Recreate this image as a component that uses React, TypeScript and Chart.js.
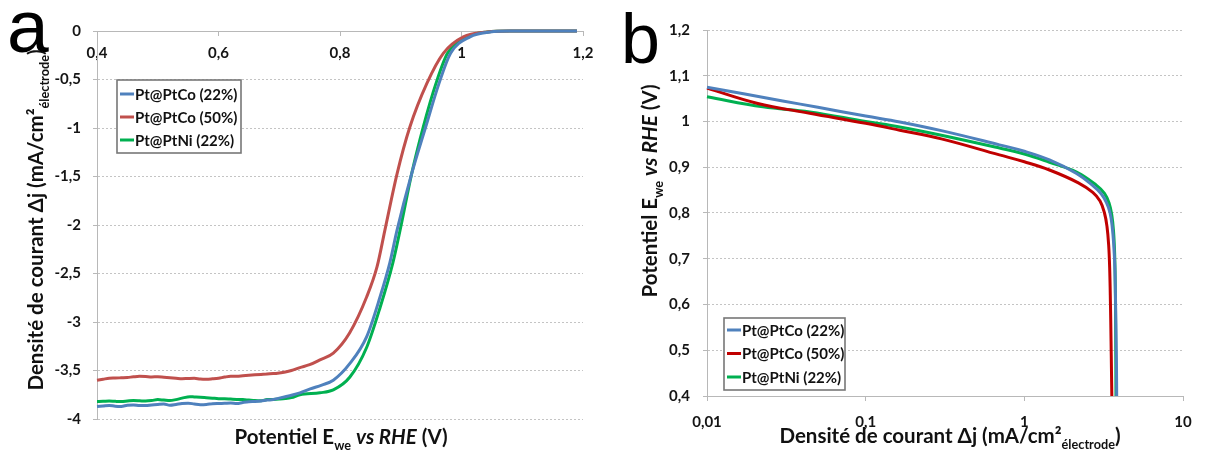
import React, { useEffect, useRef } from 'react';
import { Chart, registerables } from 'chart.js';

Chart.register(...registerables);

// ---------- Panel a : Δj vs potential ----------
const aTicksX = [0.4, 0.6, 0.8, 1, 1.2];
const aTicksY = [0, -0.5, -1, -1.5, -2, -2.5, -3, -3.5, -4];

const aLabels = ['Pt@PtCo (22%)', 'Pt@PtCo (50%)', 'Pt@PtNi (22%)'];

const aBlueV = [0.4, 0.41, 0.42, 0.43, 0.44, 0.45, 0.46, 0.47, 0.48, 0.49, 0.5, 0.51, 0.52, 0.53, 0.54, 0.55, 0.56, 0.57, 0.58, 0.59, 0.6, 0.61, 0.62, 0.63, 0.64, 0.65, 0.66, 0.67, 0.68, 0.69, 0.7, 0.71, 0.72, 0.734, 0.751, 0.77, 0.789, 0.816, 0.844, 0.866, 0.882, 0.894, 0.918, 0.941, 0.963, 0.982, 1.014, 1.047, 1.08, 1.12, 1.19];
const aBlueJ = [-3.87, -3.865, -3.86, -3.868, -3.87, -3.858, -3.855, -3.862, -3.862, -3.855, -3.85, -3.846, -3.858, -3.85, -3.84, -3.837, -3.845, -3.852, -3.85, -3.843, -3.84, -3.838, -3.835, -3.84, -3.83, -3.822, -3.82, -3.815, -3.805, -3.8, -3.785, -3.77, -3.755, -3.73, -3.69, -3.65, -3.6, -3.43, -3.15, -2.74, -2.39, -2.05, -1.47, -0.99, -0.54, -0.23, -0.06, -0.01, 0, 0, 0];

const aRedV = [0.4, 0.41, 0.42, 0.43, 0.44, 0.45, 0.46, 0.47, 0.48, 0.49, 0.5, 0.51, 0.52, 0.53, 0.54, 0.55, 0.56, 0.57, 0.58, 0.59, 0.6, 0.61, 0.62, 0.63, 0.64, 0.65, 0.66, 0.67, 0.68, 0.69, 0.7, 0.71, 0.72, 0.734, 0.75, 0.767, 0.789, 0.816, 0.844, 0.861, 0.874, 0.894, 0.915, 0.943, 0.97, 1.003, 1.042, 1.08, 1.12, 1.19];
const aRedJ = [-3.6, -3.59, -3.58, -3.578, -3.575, -3.572, -3.565, -3.56, -3.562, -3.566, -3.565, -3.57, -3.575, -3.58, -3.585, -3.582, -3.58, -3.588, -3.59, -3.586, -3.58, -3.568, -3.56, -3.56, -3.555, -3.55, -3.545, -3.54, -3.535, -3.532, -3.525, -3.515, -3.5, -3.47, -3.44, -3.39, -3.32, -3.11, -2.74, -2.43, -2.05, -1.47, -0.99, -0.54, -0.23, -0.06, -0.01, 0, 0, 0];

const aGreenV = [0.4, 0.41, 0.42, 0.43, 0.44, 0.45, 0.46, 0.47, 0.48, 0.49, 0.5, 0.51, 0.52, 0.53, 0.54, 0.553, 0.56, 0.57, 0.58, 0.59, 0.6, 0.61, 0.62, 0.63, 0.64, 0.65, 0.66, 0.67, 0.68, 0.69, 0.7, 0.71, 0.72, 0.734, 0.767, 0.789, 0.816, 0.844, 0.866, 0.887, 0.899, 0.918, 0.937, 0.958, 0.977, 1.009, 1.042, 1.08, 1.12, 1.19];
const aGreenJ = [-3.82, -3.818, -3.815, -3.818, -3.82, -3.815, -3.81, -3.812, -3.815, -3.81, -3.8, -3.805, -3.81, -3.8, -3.785, -3.77, -3.772, -3.775, -3.78, -3.785, -3.79, -3.792, -3.795, -3.798, -3.8, -3.805, -3.81, -3.812, -3.8, -3.798, -3.795, -3.79, -3.78, -3.75, -3.73, -3.7, -3.57, -3.26, -2.85, -2.39, -2.05, -1.47, -0.99, -0.54, -0.23, -0.06, -0.01, 0, 0, 0];

// ---------- Panel b : Tafel plot ----------
const bTicksX = [0.01, 0.1, 1, 10];
const bTicksY = [0.4, 0.5, 0.6, 0.7, 0.8, 0.9, 1, 1.1, 1.2];

const bBlueJ = [0.01, 0.03, 0.05, 0.1, 0.164, 0.3, 0.697, 1.0, 1.44, 2.12, 2.68, 3.05, 3.3, 3.47, 3.58, 3.66, 3.72, 3.76, 3.79, 3.81, 3.82];
const bBlueE = [1.075, 1.045, 1.031, 1.012, 0.999, 0.98, 0.949, 0.935, 0.916, 0.887, 0.861, 0.842, 0.822, 0.8, 0.77, 0.73, 0.68, 0.6, 0.52, 0.46, 0.4];

const bRedJ = [0.01, 0.0206, 0.0444, 0.1, 0.164, 0.3, 0.697, 1.0, 1.44, 2.19, 2.7, 3.0, 3.2, 3.32, 3.4, 3.45, 3.49, 3.52, 3.54, 3.56];
const bRedE = [1.073, 1.04, 1.018, 0.996, 0.981, 0.962, 0.927, 0.912, 0.894, 0.866, 0.845, 0.826, 0.8, 0.77, 0.73, 0.68, 0.6, 0.52, 0.46, 0.4];

const bGreenJ = [0.01, 0.0225, 0.0444, 0.1, 0.164, 0.3, 0.697, 1.0, 1.44, 2.12, 2.84, 3.2, 3.42, 3.56, 3.65, 3.71, 3.74, 3.76, 3.77, 3.78];
const bGreenE = [1.054, 1.032, 1.021, 1.0, 0.988, 0.97, 0.942, 0.929, 0.911, 0.89, 0.861, 0.843, 0.822, 0.795, 0.76, 0.71, 0.65, 0.57, 0.49, 0.4];

// ---------- styling ----------
const FONT = 'Lato, "Open Sans", sans-serif';
const tickFont = { family: FONT, size: 15, weight: 'bold' as const };
const tickColor = '#151515';
const axisColor = '#b8b8b8';
const gridColor = '#c4c4c4';

const fmt = (v: number | string) => {
  const n = Number(v);
  return String(parseFloat(n.toFixed(2))).replace('.', ',');
};

const toPts = (xs: number[], ys: number[]) => xs.map((x, i) => ({ x, y: ys[i] }));

type Seg = { t: string; s?: 'n' | 'i' | 'sub' };
const titleE: Seg[] = [{ t: 'Potentiel E' }, { t: 'we', s: 'sub' }, { t: ' ' }, { t: 'vs RHE', s: 'i' }, { t: ' (V)' }];
const titleJ: Seg[] = [{ t: 'Densité de courant Δj (mA/cm²' }, { t: 'électrode', s: 'sub' }, { t: ')' }];

function drawRich(ctx: CanvasRenderingContext2D, segs: Seg[], x: number, y: number, size: number, rotate: boolean) {
  const fontFor = (s?: string) => {
    const sz = s === 'sub' ? size * 0.62 : size;
    const st = s === 'i' ? 'italic ' : '';
    return `${st}bold ${sz}px ${FONT}`;
  };
  ctx.save();
  ctx.translate(x, y);
  if (rotate) ctx.rotate(-Math.PI / 2);
  let total = 0;
  for (const sg of segs) {
    ctx.font = fontFor(sg.s);
    total += ctx.measureText(sg.t).width;
  }
  let cx = -total / 2;
  ctx.textAlign = 'left';
  ctx.textBaseline = 'alphabetic';
  ctx.fillStyle = '#111';
  for (const sg of segs) {
    ctx.font = fontFor(sg.s);
    const dy = sg.s === 'sub' ? size * 0.3 : 0;
    ctx.fillText(sg.t, cx, dy);
    cx += ctx.measureText(sg.t).width;
  }
  ctx.restore();
}

const decorPlugin = {
  id: 'decor',
  afterDraw(chart: any, _args: any, opts: any) {
    const ctx: CanvasRenderingContext2D = chart.ctx;
    for (const it of opts.titles || []) drawRich(ctx, it.segs, it.x, it.y, it.size, it.rotate);
    if (opts.letter) {
      ctx.save();
      ctx.font = `${opts.letter.size}px "Liberation Sans", Arial, sans-serif`;
      ctx.fillStyle = '#000';
      ctx.textBaseline = 'alphabetic';
      ctx.textAlign = 'left';
      ctx.fillText(opts.letter.text, opts.letter.x, opts.letter.y);
      ctx.restore();
    }
    const lg = opts.legend;
    if (lg) {
      ctx.save();
      ctx.fillStyle = '#fff';
      ctx.fillRect(lg.x, lg.y, lg.w, lg.h);
      ctx.strokeStyle = '#777';
      ctx.lineWidth = 1.6;
      ctx.strokeRect(lg.x, lg.y, lg.w, lg.h);
      chart.data.datasets.forEach((ds: any, i: number) => {
        const cy = lg.y + lg.first + i * lg.row;
        ctx.strokeStyle = ds.borderColor;
        ctx.lineWidth = 3;
        ctx.beginPath();
        ctx.moveTo(lg.x + 3, cy);
        ctx.lineTo(lg.x + 17, cy);
        ctx.stroke();
        ctx.fillStyle = '#111';
        ctx.font = `bold 15px ${FONT}`;
        ctx.textBaseline = 'middle';
        ctx.textAlign = 'left';
        ctx.fillText(ds.label, lg.x + 18, cy + 1);
      });
      ctx.restore();
    }
  },
};

const lineDs = (label: string, color: string, data: { x: number; y: number }[], smooth: 'mono' | 'bez') => ({
  label,
  data,
  borderColor: color,
  backgroundColor: color,
  borderWidth: 3,
  pointRadius: 0,
  fill: false,
  ...(smooth === 'mono' ? { cubicInterpolationMode: 'monotone' as const } : { tension: 0.4 }),
  clip: false as const,
});

export default function App() {
  const leftRef = useRef<HTMLCanvasElement>(null);
  const rightRef = useRef<HTMLCanvasElement>(null);

  useEffect(() => {
    const cA = new Chart(leftRef.current!, {
      type: 'line',
      data: {
        datasets: [
          lineDs(aLabels[0], '#4F81BD', toPts(aBlueV, aBlueJ), 'mono'),
          lineDs(aLabels[1], '#C0504D', toPts(aRedV, aRedJ), 'mono'),
          lineDs(aLabels[2], '#00B050', toPts(aGreenV, aGreenJ), 'mono'),
        ],
      },
      options: {
        animation: false,
        responsive: false,
        devicePixelRatio: 1,
        layout: { padding: { left: 0, right: 22, top: 31, bottom: 36 } },
        plugins: {
          legend: { display: false },
          tooltip: { enabled: false },
          decor: {
            titles: [
              { segs: titleE, x: 341, y: 444, size: 20.5, rotate: false },
              { segs: titleJ, x: 43, y: 220, size: 20.5, rotate: true },
            ],
            letter: { text: 'a', x: 7, y: 52, size: 75 },
            legend: { x: 117, y: 80, w: 124, h: 73, first: 14, row: 23 },
          },
        } as any,
        scales: {
          x: {
            type: 'linear',
            min: 0.4,
            max: 1.2,
            position: { y: 0 } as any,
            afterBuildTicks: (s: any) => { s.ticks = aTicksX.map((v) => ({ value: v })); },
            ticks: { callback: (v: any) => fmt(v), font: tickFont, color: tickColor, padding: 9, maxRotation: 0, autoSkip: false },
            grid: { display: true, drawOnChartArea: false, drawTicks: true, tickLength: 4, color: axisColor },
            border: { display: true, color: axisColor, width: 1 },
          },
          y: {
            type: 'linear',
            min: -4,
            max: 0,
            afterBuildTicks: (s: any) => { s.ticks = aTicksY.map((v) => ({ value: v })); },
            afterFit: (s: any) => { s.width = 97; },
            ticks: { callback: (v: any) => fmt(v), font: tickFont, color: tickColor, padding: 12 },
            grid: { color: gridColor, tickLength: 4, tickColor: axisColor, drawTicks: true },
            border: { display: true, color: axisColor, width: 1, dash: [2, 2] },
          },
        },
      },
      plugins: [decorPlugin],
    } as any);

    const cB = new Chart(rightRef.current!, {
      type: 'line',
      data: {
        datasets: [
          lineDs(aLabels[0], '#4F81BD', toPts(bBlueJ, bBlueE), 'bez'),
          lineDs(aLabels[1], '#C00000', toPts(bRedJ, bRedE), 'bez'),
          lineDs(aLabels[2], '#00B050', toPts(bGreenJ, bGreenE), 'bez'),
        ],
      },
      options: {
        animation: false,
        responsive: false,
        devicePixelRatio: 1,
        layout: { padding: { left: 0, right: 27, top: 30, bottom: 0 } },
        plugins: {
          legend: { display: false },
          tooltip: { enabled: false },
          decor: {
            titles: [
              { segs: titleJ, x: 345, y: 443, size: 20.5, rotate: false },
              { segs: titleE, x: 52, y: 191, size: 20.5, rotate: true },
            ],
            letter: { text: 'b', x: 16, y: 63, size: 70 },
            legend: { x: 119, y: 318, w: 121, h: 72, first: 12, row: 23.5 },
          },
        } as any,
        scales: {
          x: {
            type: 'logarithmic',
            min: 0.01,
            max: 10,
            position: 'bottom',
            afterBuildTicks: (s: any) => { s.ticks = bTicksX.map((v) => ({ value: v, major: true })); },
            afterFit: (s: any) => { s.height = 59; },
            ticks: { callback: (v: any) => fmt(v), font: tickFont, color: tickColor, padding: 12, maxRotation: 0, autoSkip: false },
            grid: { display: true, drawOnChartArea: false, drawTicks: true, tickLength: 5, color: axisColor },
            border: { display: true, color: axisColor, width: 1 },
          },
          y: {
            type: 'linear',
            min: 0.4,
            max: 1.2,
            afterBuildTicks: (s: any) => { s.ticks = bTicksY.map((v) => ({ value: v })); },
            afterFit: (s: any) => { s.width = 102; },
            ticks: { callback: (v: any) => fmt(v), font: tickFont, color: tickColor, padding: 13 },
            grid: { color: gridColor, tickLength: 4, tickColor: axisColor, drawTicks: true },
            border: { display: true, color: axisColor, width: 1, dash: [2, 2] },
          },
        },
      },
      plugins: [decorPlugin],
    } as any);

    return () => {
      cA.destroy();
      cB.destroy();
    };
  }, []);

  return (
    <div style={{ position: 'absolute', left: 0, top: 0, width: 1210, height: 455, background: '#fff', overflow: 'hidden' }}>
      <canvas ref={leftRef} width={605} height={455} style={{ position: 'absolute', left: 0, top: 0, width: 605, height: 455 }} />
      <canvas ref={rightRef} width={605} height={455} style={{ position: 'absolute', left: 605, top: 0, width: 605, height: 455 }} />
    </div>
  );
}
